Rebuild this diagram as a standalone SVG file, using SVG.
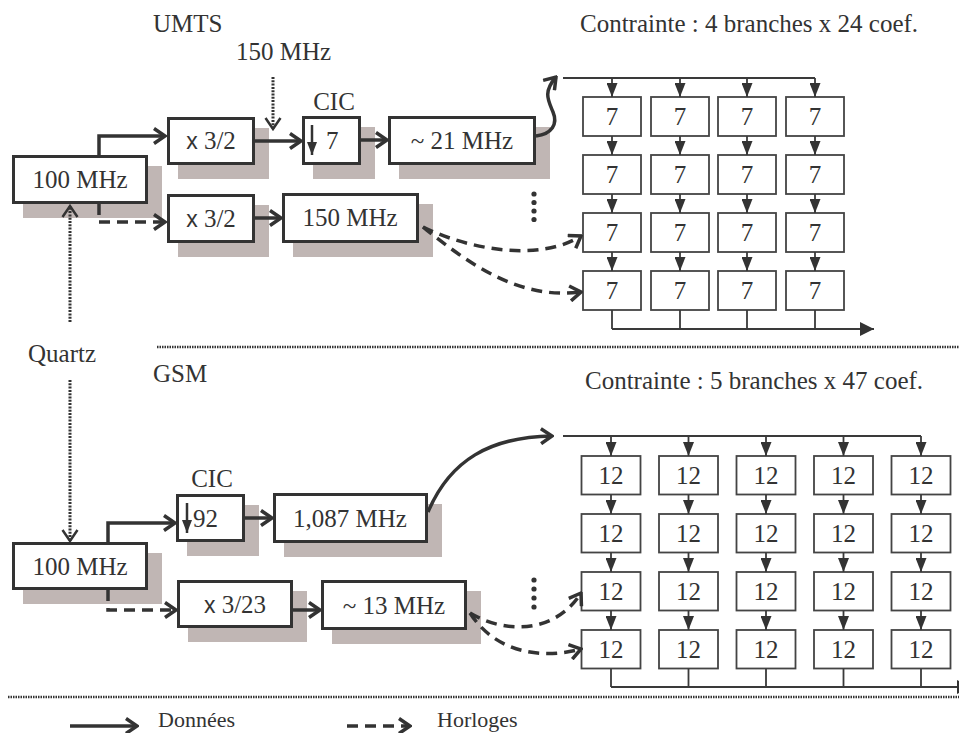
<svg xmlns="http://www.w3.org/2000/svg" width="959" height="733" viewBox="0 0 959 733">
<defs>
<style>
text{font-size:25px;fill:#333}
.c{text-anchor:middle}
.shadow{fill:#c0b6b4;stroke:none}
.box{fill:#fff;stroke:#333;stroke-width:3}
.gbox{fill:#fff;stroke:#444;stroke-width:1.8}
.data{fill:none;stroke:#333;stroke-width:3.5;marker-end:url(#open)}
.clk{fill:none;stroke:#333;stroke-width:3.5;stroke-dasharray:11 7;marker-end:url(#open)}
.dot{fill:none;stroke:#333;stroke-width:3;stroke-dasharray:2 1.3;marker-end:url(#openthin)}
.g{fill:none;stroke:#3a3a3a;stroke-width:1.8}
.ga{fill:none;stroke:#3a3a3a;stroke-width:1.8;marker-end:url(#fill)}
.gb{fill:none;stroke:#3a3a3a;stroke-width:2.2;marker-end:url(#fillbig)}
.sep{fill:none;stroke:#333;stroke-width:2.5;stroke-dasharray:1.5 1}
</style>
<marker id="open" viewBox="0 0 14 18" refX="12" refY="9" markerWidth="14" markerHeight="18" markerUnits="userSpaceOnUse" orient="auto">
<path d="M1,1.5 L12,9 L1,16.5" fill="none" stroke="#333" stroke-width="3.5"/>
</marker>
<marker id="openthin" viewBox="0 0 14 18" refX="12" refY="9" markerWidth="14" markerHeight="18" markerUnits="userSpaceOnUse" orient="auto">
<path d="M1,1.5 L12,9 L1,16.5" fill="none" stroke="#333" stroke-width="2.5"/>
</marker>
<marker id="fill" viewBox="0 0 14 11" refX="14" refY="5.5" markerWidth="14" markerHeight="11" markerUnits="userSpaceOnUse" orient="auto">
<path d="M0,0 L14,5.5 L0,11 Z" fill="#333"/>
</marker>
<marker id="fillbig" viewBox="0 0 14 14" refX="14" refY="7" markerWidth="14" markerHeight="14" markerUnits="userSpaceOnUse" orient="auto">
<path d="M0,0 L14,7 L0,14 Z" fill="#333"/>
</marker>
<marker id="down" viewBox="0 0 10 13" refX="5" refY="13" markerWidth="10" markerHeight="13" markerUnits="userSpaceOnUse" orient="0">
<path d="M0,0 L10,0 L5,13 Z" fill="#333"/>
</marker>
</defs>
<rect x="0" y="0" width="959" height="733" fill="#fff"/>
<g font-family="'Liberation Serif', 'Times New Roman', Times, 'DejaVu Serif', serif">

<!-- Labels -->
<g id="labels">
<text x="153" y="32">UMTS</text>
<text x="236" y="60">150 MHz</text>
<text x="580" y="32">Contrainte : 4 branches x 24 coef.</text>
<text x="28" y="362">Quartz</text>
<text x="153" y="382">GSM</text>
<text x="585" y="389">Contrainte : 5 branches x 47 coef.</text>
</g>

<!-- separators -->
<g id="separators">
<path class="sep" d="M157,347 H959"/>
<path class="sep" d="M8,697 H959"/>
</g>

<!-- UMTS chain nodes -->
<g id="n-100-top">
<rect class="shadow" x="23" y="166" width="139" height="52"/>
<rect class="box" x="13.5" y="156.5" width="133" height="46"/>
<text class="c" x="80" y="188">100 MHz</text>
</g>
<g id="n-x32-top">
<rect class="shadow" x="178" y="128" width="91" height="51"/>
<rect class="box" x="168.5" y="118.5" width="85" height="45"/>
<text class="c" x="211" y="149"><tspan font-family="'Liberation Sans', Arial, sans-serif" font-size="23">x</tspan> 3/2</text>
</g>
<g id="n-cic7">
<text class="c" x="334" y="110">CIC</text>
<rect class="shadow" x="313" y="127" width="62" height="52"/>
<rect class="box" x="303.5" y="117.5" width="56" height="46"/>
<path d="M312,125 V155" stroke="#333" stroke-width="2.5" marker-end="url(#down)"/>
<text x="326" y="149">7</text>
</g>
<g id="n-21">
<rect class="shadow" x="399" y="127" width="151" height="52"/>
<rect class="box" x="389.5" y="117.5" width="145" height="46"/>
<text class="c" x="462" y="149">~ 21 MHz</text>
</g>
<g id="n-x32-bot">
<rect class="shadow" x="178" y="205" width="91" height="52"/>
<rect class="box" x="168.5" y="195.5" width="85" height="46"/>
<text class="c" x="211" y="227"><tspan font-family="'Liberation Sans', Arial, sans-serif" font-size="23">x</tspan> 3/2</text>
</g>
<g id="n-150">
<rect class="shadow" x="293" y="204" width="140" height="53"/>
<rect class="box" x="283.5" y="194.5" width="134" height="47"/>
<text class="c" x="350" y="226">150 MHz</text>
</g>

<!-- GSM chain nodes -->
<g id="n-100-bot">
<rect class="shadow" x="23" y="553" width="139" height="51"/>
<rect class="box" x="13.5" y="543.5" width="133" height="45"/>
<text class="c" x="80" y="575">100 MHz</text>
</g>
<g id="n-cic92">
<text class="c" x="212" y="487">CIC</text>
<rect class="shadow" x="187" y="505" width="72" height="51"/>
<rect class="box" x="177.5" y="495.5" width="66" height="45"/>
<path d="M187,503 V533" stroke="#333" stroke-width="2.5" marker-end="url(#down)"/>
<text x="193" y="527">92</text>
</g>
<g id="n-1087">
<rect class="shadow" x="284" y="504" width="158" height="53"/>
<rect class="box" x="274.5" y="494.5" width="152" height="47"/>
<text class="c" x="350" y="527">1,087 MHz</text>
</g>
<g id="n-x323">
<rect class="shadow" x="188" y="591" width="119" height="51"/>
<rect class="box" x="178.5" y="581.5" width="113" height="45"/>
<text class="c" x="235" y="613"><tspan font-family="'Liberation Sans', Arial, sans-serif" font-size="23">x</tspan> 3/23</text>
</g>
<g id="n-13">
<rect class="shadow" x="332" y="591" width="149" height="53"/>
<rect class="box" x="322.5" y="581.5" width="143" height="47"/>
<text class="c" x="394" y="614">~ 13 MHz</text>
</g>

<!-- UMTS grid -->
<g id="grid-umts">
<g id="u11"><rect class="gbox" x="583" y="97" width="58" height="39"/><text class="c" x="612" y="125">7</text></g>
<g id="u12"><rect class="gbox" x="651" y="97" width="58" height="39"/><text class="c" x="680" y="125">7</text></g>
<g id="u13"><rect class="gbox" x="718" y="97" width="58" height="39"/><text class="c" x="747" y="125">7</text></g>
<g id="u14"><rect class="gbox" x="786" y="97" width="58" height="39"/><text class="c" x="815" y="125">7</text></g>
<g id="u21"><rect class="gbox" x="583" y="155" width="58" height="39"/><text class="c" x="612" y="183">7</text></g>
<g id="u22"><rect class="gbox" x="651" y="155" width="58" height="39"/><text class="c" x="680" y="183">7</text></g>
<g id="u23"><rect class="gbox" x="718" y="155" width="58" height="39"/><text class="c" x="747" y="183">7</text></g>
<g id="u24"><rect class="gbox" x="786" y="155" width="58" height="39"/><text class="c" x="815" y="183">7</text></g>
<g id="u31"><rect class="gbox" x="583" y="213" width="58" height="39"/><text class="c" x="612" y="241">7</text></g>
<g id="u32"><rect class="gbox" x="651" y="213" width="58" height="39"/><text class="c" x="680" y="241">7</text></g>
<g id="u33"><rect class="gbox" x="718" y="213" width="58" height="39"/><text class="c" x="747" y="241">7</text></g>
<g id="u34"><rect class="gbox" x="786" y="213" width="58" height="39"/><text class="c" x="815" y="241">7</text></g>
<g id="u41"><rect class="gbox" x="583" y="271" width="58" height="39"/><text class="c" x="612" y="299">7</text></g>
<g id="u42"><rect class="gbox" x="651" y="271" width="58" height="39"/><text class="c" x="680" y="299">7</text></g>
<g id="u43"><rect class="gbox" x="718" y="271" width="58" height="39"/><text class="c" x="747" y="299">7</text></g>
<g id="u44"><rect class="gbox" x="786" y="271" width="58" height="39"/><text class="c" x="815" y="299">7</text></g>
</g>

<!-- GSM grid -->
<g id="grid-gsm">
<g id="g11"><rect class="gbox" x="581.5" y="456" width="59" height="38.5"/><text class="c" x="611" y="484">12</text></g>
<g id="g12"><rect class="gbox" x="659" y="456" width="59" height="38.5"/><text class="c" x="688.5" y="484">12</text></g>
<g id="g13"><rect class="gbox" x="736.5" y="456" width="59" height="38.5"/><text class="c" x="766" y="484">12</text></g>
<g id="g14"><rect class="gbox" x="814" y="456" width="59" height="38.5"/><text class="c" x="843.5" y="484">12</text></g>
<g id="g15"><rect class="gbox" x="891.5" y="456" width="59" height="38.5"/><text class="c" x="921" y="484">12</text></g>
<g id="g21"><rect class="gbox" x="581.5" y="514" width="59" height="38.5"/><text class="c" x="611" y="542">12</text></g>
<g id="g22"><rect class="gbox" x="659" y="514" width="59" height="38.5"/><text class="c" x="688.5" y="542">12</text></g>
<g id="g23"><rect class="gbox" x="736.5" y="514" width="59" height="38.5"/><text class="c" x="766" y="542">12</text></g>
<g id="g24"><rect class="gbox" x="814" y="514" width="59" height="38.5"/><text class="c" x="843.5" y="542">12</text></g>
<g id="g25"><rect class="gbox" x="891.5" y="514" width="59" height="38.5"/><text class="c" x="921" y="542">12</text></g>
<g id="g31"><rect class="gbox" x="581.5" y="572" width="59" height="38.5"/><text class="c" x="611" y="600">12</text></g>
<g id="g32"><rect class="gbox" x="659" y="572" width="59" height="38.5"/><text class="c" x="688.5" y="600">12</text></g>
<g id="g33"><rect class="gbox" x="736.5" y="572" width="59" height="38.5"/><text class="c" x="766" y="600">12</text></g>
<g id="g34"><rect class="gbox" x="814" y="572" width="59" height="38.5"/><text class="c" x="843.5" y="600">12</text></g>
<g id="g35"><rect class="gbox" x="891.5" y="572" width="59" height="38.5"/><text class="c" x="921" y="600">12</text></g>
<g id="g41"><rect class="gbox" x="581.5" y="630" width="59" height="38.5"/><text class="c" x="611" y="658">12</text></g>
<g id="g42"><rect class="gbox" x="659" y="630" width="59" height="38.5"/><text class="c" x="688.5" y="658">12</text></g>
<g id="g43"><rect class="gbox" x="736.5" y="630" width="59" height="38.5"/><text class="c" x="766" y="658">12</text></g>
<g id="g44"><rect class="gbox" x="814" y="630" width="59" height="38.5"/><text class="c" x="843.5" y="658">12</text></g>
<g id="g45"><rect class="gbox" x="891.5" y="630" width="59" height="38.5"/><text class="c" x="921" y="658">12</text></g>
</g>

<!-- connectors -->
<g id="connectors">
<!-- UMTS chain -->
<path class="data" d="M99,155 V136 H165"/>
<path class="clk" d="M99,204 V222 H165"/>
<path class="data" d="M255,141 H301"/>
<path class="data" d="M361,140 H387"/>
<path class="data" d="M255,218 H281"/>
<path class="dot" d="M273,77 V129"/>
<path class="dot" d="M70,322 V206"/>
<path class="data" d="M536,136 C552,134 558,124 553,112 C548,100 543,92 556,77"/>
<path class="clk" d="M423,227 C470,250 540,262 581,236"/>
<path class="clk" d="M423,227 C470,265 520,300 581,292"/>
<!-- GSM chain -->
<path class="dot" d="M70,380 V541"/>
<path class="data" d="M108,542 V523 H175"/>
<path class="clk" d="M108,590 V610 H176"/>
<path class="data" d="M245,518 H272"/>
<path class="data" d="M293,610 H320"/>
<path class="data" d="M428,512 C450,460 490,437 552,436"/>
<path class="clk" d="M470,613 C505,634 555,634 581,593"/>
<path class="clk" d="M470,613 C495,652 540,660 581,649"/>
<!-- UMTS grid -->
<path class="g" d="M563,78 H815"/>
<path class="ga" d="M612,78 V97"/><path class="ga" d="M680,78 V97"/><path class="ga" d="M747,78 V97"/><path class="ga" d="M815,78 V97"/>
<path class="ga" d="M612,136 V155"/><path class="ga" d="M680,136 V155"/><path class="ga" d="M747,136 V155"/><path class="ga" d="M815,136 V155"/>
<path class="ga" d="M612,194 V213"/><path class="ga" d="M680,194 V213"/><path class="ga" d="M747,194 V213"/><path class="ga" d="M815,194 V213"/>
<path class="ga" d="M612,252 V271"/><path class="ga" d="M680,252 V271"/><path class="ga" d="M747,252 V271"/><path class="ga" d="M815,252 V271"/>
<path class="g" d="M612,310 V329 M680,310 V329 M747,310 V329 M815,310 V329"/>
<path class="gb" d="M612,329 H874"/>
<!-- GSM grid -->
<path class="g" d="M563,436 H921"/>
<path class="ga" d="M611,436 V456"/><path class="ga" d="M688.5,436 V456"/><path class="ga" d="M766,436 V456"/><path class="ga" d="M843.5,436 V456"/><path class="ga" d="M921,436 V456"/>
<path class="ga" d="M611,494.5 V514"/><path class="ga" d="M688.5,494.5 V514"/><path class="ga" d="M766,494.5 V514"/><path class="ga" d="M843.5,494.5 V514"/><path class="ga" d="M921,494.5 V514"/>
<path class="ga" d="M611,552.5 V572"/><path class="ga" d="M688.5,552.5 V572"/><path class="ga" d="M766,552.5 V572"/><path class="ga" d="M843.5,552.5 V572"/><path class="ga" d="M921,552.5 V572"/>
<path class="ga" d="M611,610.5 V630"/><path class="ga" d="M688.5,610.5 V630"/><path class="ga" d="M766,610.5 V630"/><path class="ga" d="M843.5,610.5 V630"/><path class="ga" d="M921,610.5 V630"/>
<path class="g" d="M611,668.5 V687 M688.5,668.5 V687 M766,668.5 V687 M843.5,668.5 V687 M921,668.5 V687"/>
<path class="gb" d="M611,687 H971"/>
</g>

<!-- ellipsis dots -->
<g id="dots" fill="#333">
<circle cx="534" cy="194" r="2.6"/><circle cx="534" cy="202.5" r="2.6"/><circle cx="534" cy="211" r="2.6"/><circle cx="534" cy="219.5" r="2.6"/>
<circle cx="534" cy="580" r="2.6"/><circle cx="534" cy="589" r="2.6"/><circle cx="534" cy="598" r="2.6"/><circle cx="534" cy="607" r="2.6"/>
</g>

<!-- legend -->
<g id="legend">
<path class="data" d="M70,726 H137"/>
<text x="158" y="727" font-size="22" style="font-size:22px">Données</text>
<path class="clk" d="M347,726 H410"/>
<text x="437" y="727" style="font-size:22px">Horloges</text>
</g>
</g>
</svg>
